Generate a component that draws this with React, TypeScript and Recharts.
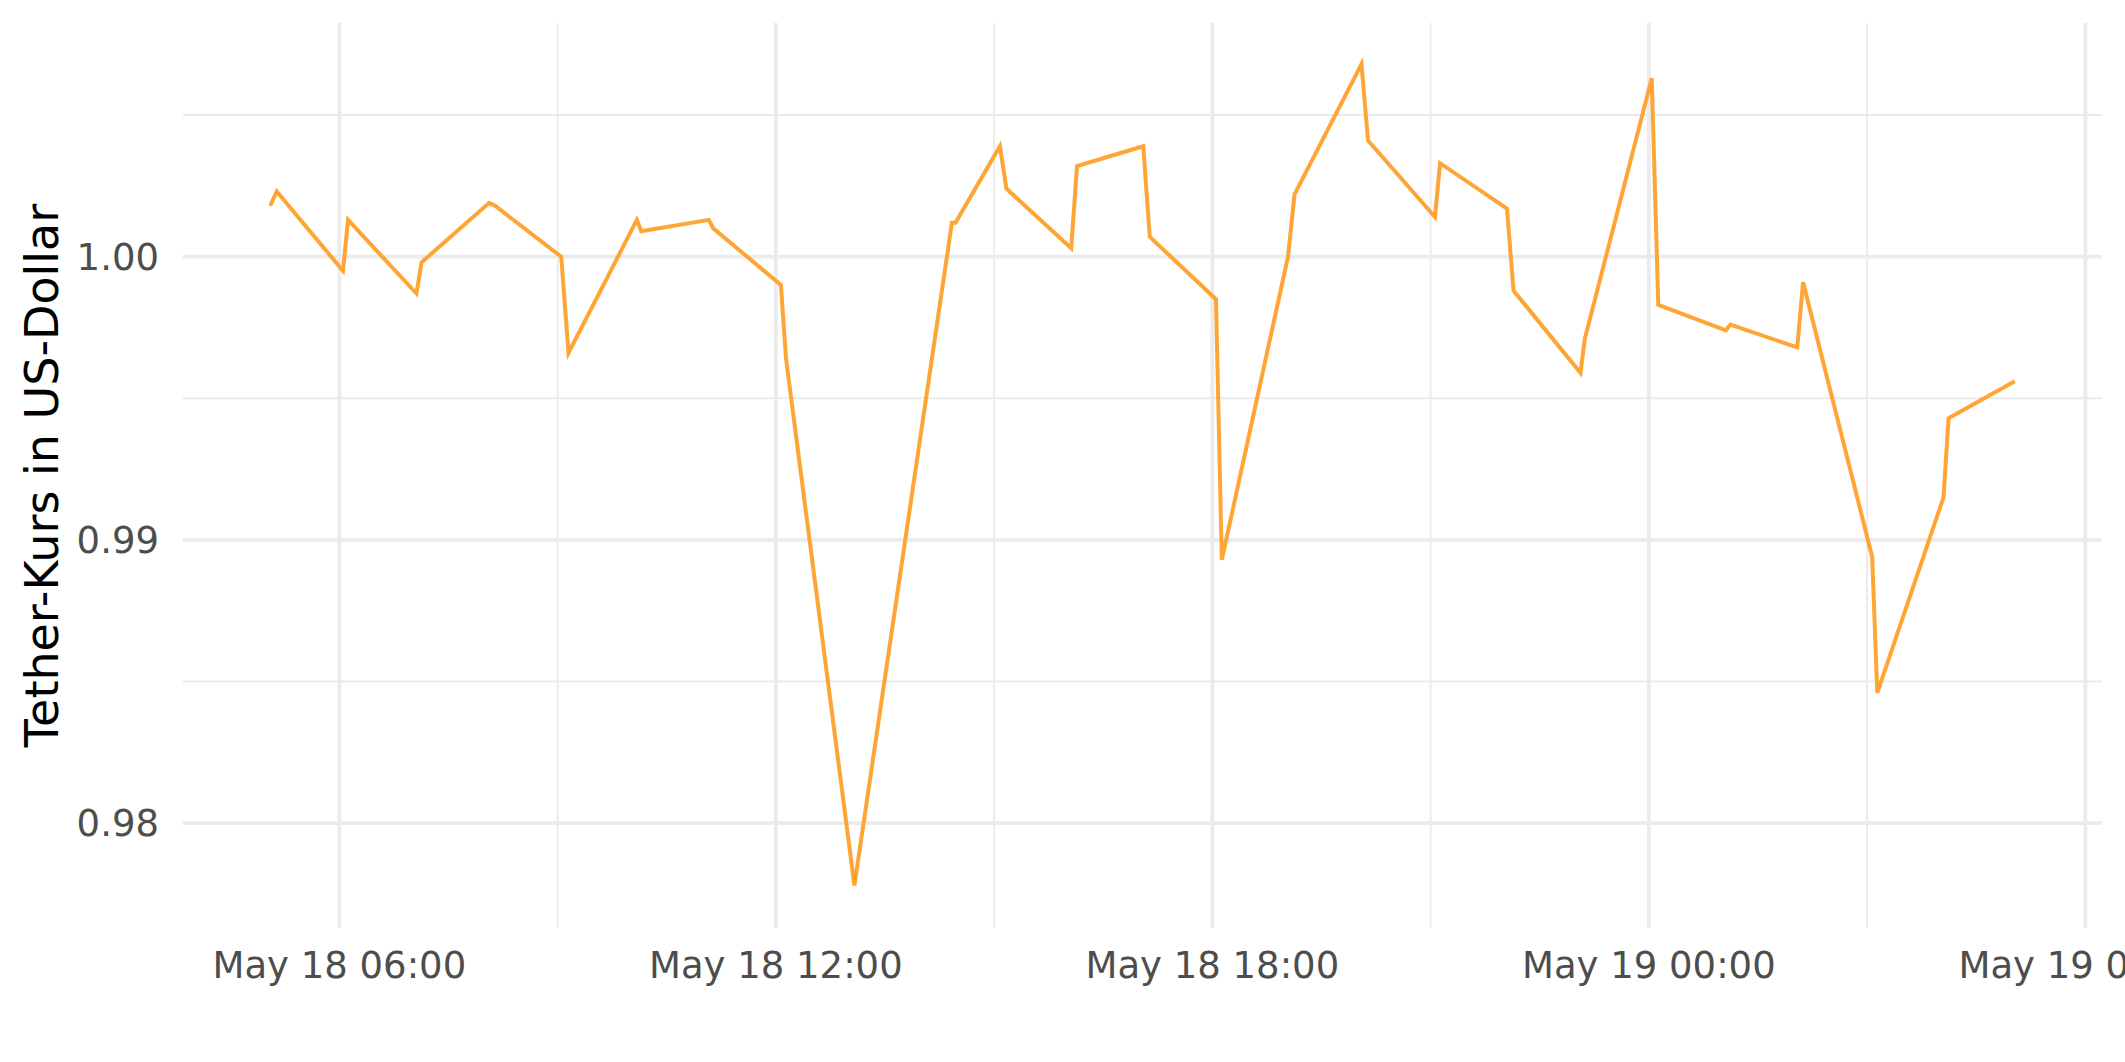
import React from 'react';
import { LineChart, Line, XAxis, YAxis, ReferenceLine } from 'recharts';

// hours after May 18 00:00
const hours = [
  5.05, 5.14, 6.05, 6.12, 7.06, 7.13, 8.06, 8.14, 9.05, 9.15,
  10.09, 10.15, 11.08, 11.14, 12.07, 12.14, 13.08, 14.42, 14.47, 15.08,
  15.17, 16.06, 16.14, 17.05, 17.14, 18.05, 18.13, 19.04, 19.13, 20.05,
  20.14, 21.06, 21.13, 22.05, 22.14, 23.06, 23.12, 24.04, 24.13, 25.06,
  25.12, 26.04, 26.12, 27.07, 27.14, 28.05, 28.12, 29.03,
];

const prices = [
  1.0018, 1.0023, 0.9995, 1.0013, 0.9987, 0.9998, 1.0019, 1.0018, 1.0, 0.9966,
  1.0013, 1.0009, 1.0013, 1.001, 0.999, 0.9964, 0.9778, 1.0012, 1.0012, 1.0039,
  1.0024, 1.0003, 1.0032, 1.0039, 1.0007, 0.9985, 0.9893, 1.0, 1.0022, 1.0068,
  1.0041, 1.0014, 1.0033, 1.0017, 0.9988, 0.9959, 0.9971, 1.0063, 0.9983, 0.9974,
  0.9976, 0.9968, 0.9991, 0.9894, 0.9846, 0.9915, 0.9943, 0.9956,
];

const xTicks = [6, 12, 18, 24, 30];
const xMinor = [9, 15, 21, 27];
const yTicks = [0.98, 0.99, 1.0];
const yMinor = [0.985, 0.995, 1.005];

const data = hours.map((t, i) => ({ t, price: prices[i] }));

const pad = (n: number) => String(n).padStart(2, '0');
const fmtTime = (h: number) => {
  const day = 18 + Math.floor(h / 24);
  return `May ${day} ${pad(Math.round(h % 24))}:00`;
};

const GRID = '#EBEBEB';
const TICK = { fill: '#4D4D4D', fontSize: 37, fontFamily: 'DejaVu Sans' };

export default function App() {
  return (
    <div style={{ position: 'absolute', left: 0, top: 0, width: 2125, height: 1062, background: '#fff' }}>
      <LineChart
        width={2125}
        height={1062}
        data={data}
        margin={{ top: 23, right: 23, bottom: 0, left: 0 }}
        style={{ fontFamily: 'DejaVu Sans' }}
      >
        {/* minor grid */}
        {xMinor.map((x) => (
          <ReferenceLine key={'xm' + x} x={x} stroke={GRID} strokeWidth={1.9} />
        ))}
        {yMinor.map((y) => (
          <ReferenceLine key={'ym' + y} y={y} stroke={GRID} strokeWidth={1.9} />
        ))}
        {/* major grid */}
        {xTicks.map((x) => (
          <ReferenceLine key={'x' + x} x={x} stroke={GRID} strokeWidth={3.8} />
        ))}
        {yTicks.map((y) => (
          <ReferenceLine key={'y' + y} y={y} stroke={GRID} strokeWidth={3.8} />
        ))}
        <XAxis
          dataKey="t"
          type="number"
          domain={[3.851, 30.229]}
          allowDataOverflow
          ticks={xTicks}
          interval={0}
          tickFormatter={fmtTime}
          axisLine={false}
          tickLine={false}
          tickSize={0}
          tickMargin={24}
          height={134}
          tick={TICK}
        />
        <YAxis
          type="number"
          domain={[0.9763, 1.00825]}
          allowDataOverflow
          ticks={yTicks}
          interval={0}
          tickFormatter={(v: number) => v.toFixed(2)}
          axisLine={false}
          tickLine={false}
          tickSize={0}
          tickMargin={24}
          width={183}
          tick={TICK}
        />
        <Line
          type="linear"
          dataKey="price"
          stroke="#FFA535"
          strokeWidth={4}
          dot={false}
          isAnimationActive={false}
        />
      </LineChart>
      <svg
        width={2125}
        height={1062}
        style={{ position: 'absolute', left: 0, top: 0, pointerEvents: 'none' }}
      >
        <text
          x={0}
          y={0}
          transform="translate(58 475.5) rotate(-90)"
          textAnchor="middle"
          fontFamily="DejaVu Sans"
          fontSize={46}
          fill="#000"
        >
          Tether-Kurs in US-Dollar
        </text>
      </svg>
    </div>
  );
}
